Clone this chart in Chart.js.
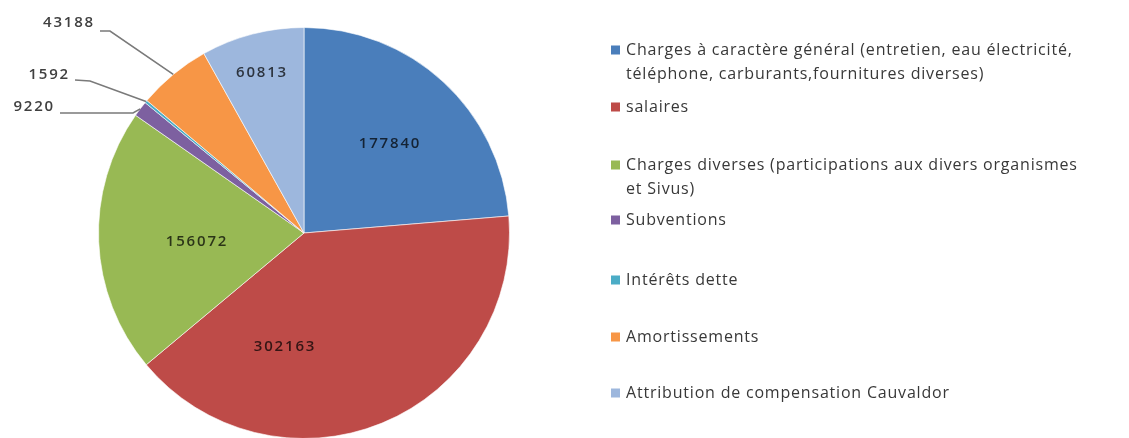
<!DOCTYPE html>
<html>
<head>
<meta charset="utf-8">
<script src="https://cdn.jsdelivr.net/npm/chart.js@4.4.1/dist/chart.umd.min.js"></script>
<style>
    html, body { margin: 0; padding: 0; background: #fff; overflow: hidden; }
    .wrap { position: relative; width: 1129px; height: 440px; }
    canvas { display: block; filter: blur(0.5px); }
</style>
</head>
<body>
<div class="wrap"><canvas id="chart" width="1129" height="440"></canvas></div>
<script>
const categories = [
    'Charges à caractère général (entretien, eau électricité, téléphone, carburants,fournitures diverses)',
    'salaires',
    'Charges diverses (participations aux divers organismes et Sivus)',
    'Subventions',
    'Intérêts dette',
    'Amortissements',
    'Attribution de compensation Cauvaldor'
];
const amounts = [177840, 302163, 156072, 9220, 1592, 43188, 60813];
const sliceColors = ['#4a7ebb', '#be4b48', '#98b954', '#7d60a0', '#4bacc6', '#f79646', '#9db7dd'];

// où poser les étiquettes, en px par rapport au centre du camembert
const labelSpots = [
    { at: [86, -89] },
    { at: [-19, 114] },
    { at: [-107, 9] },
    { at: [-249, -126], from: [-244, -120], elbow: [-171, -120] },
    { at: [-234, -158], from: [-229, -153], elbow: [-214, -152] },
    { at: [-209, -210], from: [-204, -202], elbow: [-194, -202] },
    { at: [-42, -160] }
];
// ligne (y) de chaque entrée de légende
const legendRows = [50, 107, 165, 220, 280, 337, 393];

function wrapText(ctx, text, maxWidth) {
    const words = text.split(' ');
    const lines = [];
    let cur = '';
    words.forEach(w => {
        const test = cur ? cur + ' ' + w : w;
        if (cur && ctx.measureText(test).width > maxWidth) {
            lines.push(cur);
            cur = w;
        } else {
            cur = test;
        }
    });
    if (cur) lines.push(cur);
    return lines;
}

const sliceLabels = {
    id: 'sliceLabels',
    afterDatasetsDraw(chart) {
        const ctx = chart.ctx;
        const meta = chart.getDatasetMeta(0);
        const values = chart.data.datasets[0].data;
        ctx.save();
        ctx.font = '600 15px "Open Sans"';
        ctx.letterSpacing = '1.8px';
        ctx.textBaseline = 'middle';
        meta.data.forEach((arc, i) => {
            const spot = labelSpots[i];
            const cx = arc.x, cy = arc.y;
            const txt = String(values[i]);
            if (spot.elbow) {
                const mid = (arc.startAngle + arc.endAngle) / 2;
                const ex = cx + Math.cos(mid) * arc.outerRadius;
                const ey = cy + Math.sin(mid) * arc.outerRadius;
                ctx.strokeStyle = '#7a7a7a';
                ctx.lineWidth = 1.6;
                ctx.beginPath();
                ctx.moveTo(cx + spot.from[0], cy + spot.from[1]);
                ctx.lineTo(cx + spot.elbow[0], cy + spot.elbow[1]);
                ctx.lineTo(ex, ey);
                ctx.stroke();
                ctx.fillStyle = '#404040';
                ctx.textAlign = 'right';
            } else {
                ctx.fillStyle = 'rgba(0,0,0,0.72)';
                ctx.textAlign = 'center';
            }
            ctx.fillText(txt, cx + spot.at[0], cy + spot.at[1]);
        });
        ctx.restore();
    }
};

const sideLegend = {
    id: 'sideLegend',
    afterDraw(chart) {
        const ctx = chart.ctx;
        ctx.save();
        ctx.font = '16px "Open Sans"';
        ctx.letterSpacing = '0.8px';
        ctx.textBaseline = 'middle';
        chart.data.labels.forEach((label, i) => {
            const y = legendRows[i];
            ctx.fillStyle = sliceColors[i];
            ctx.fillRect(611, y - 4.5, 9, 9);
            ctx.fillStyle = '#383838';
            wrapText(ctx, label, 460).forEach((line, k) => {
                ctx.fillText(line, 626, y + k * 24);
            });
        });
        ctx.restore();
    }
};

new Chart(document.getElementById('chart').getContext('2d'), {
    type: 'pie',
    data: {
        labels: categories,
        datasets: [{
            data: amounts,
            backgroundColor: sliceColors,
            borderColor: 'rgba(255,255,255,0.6)',
            borderWidth: 1
        }]
    },
    options: {
        responsive: false,
        animation: false,
        layout: { padding: { top: 27, left: 98, right: 619, bottom: 1 } },
        plugins: {
            legend: { display: false },
            tooltip: { enabled: false }
        }
    },
    plugins: [sliceLabels, sideLegend]
});
</script>
</body>
</html>
